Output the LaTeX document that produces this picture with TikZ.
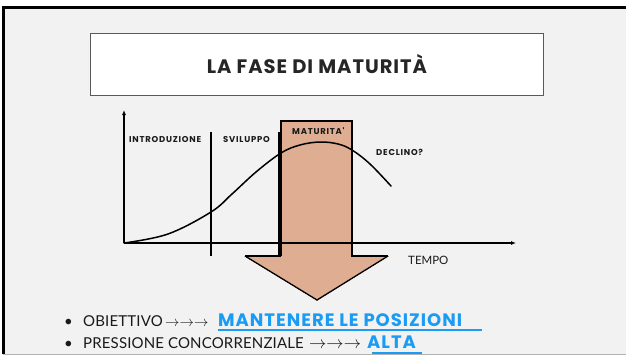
\documentclass[tikz,border=0pt]{standalone}
\usepackage{fontspec}
\setmainfont{Lato}
\newfontfamily\titlefont{Poppins}
\usetikzlibrary{arrows.meta,calc}
\definecolor{slidebg}{HTML}{F2F2F2}
\definecolor{matfill}{HTML}{DFAD92}
\definecolor{hlblue}{HTML}{1A9CF5}
\definecolor{titlegrey}{HTML}{595959}
\definecolor{textdark}{HTML}{1A1A1A}
\tikzset{
  px/.style={x=1pt,y=-1pt},
  phase/.style={inner sep=0pt,anchor=base west,font=\titlefont\fontsize{8.5}{9}\selectfont\bfseries\addfontfeatures{LetterSpace=9},text=textdark},
  bodytext/.style={inner sep=0pt,anchor=base west,font=\fontsize{15}{17}\selectfont\addfontfeatures{LetterSpace=1},text=textdark},
  arrowtext/.style={inner sep=0pt,anchor=base west,font=\fontsize{15}{17}\selectfont,text=textdark},
  bluetext/.style={inner sep=0pt,anchor=base west,font=\titlefont\fontsize{18}{19}\selectfont\bfseries\addfontfeatures{LetterSpace=5.5},text=hlblue},
  axis/.style={line width=1.2pt,-{Latex[length=5pt,width=4pt]}},
  divider/.style={line width=1.5pt},
  blueline/.style={hlblue,line width=2pt}
}
\begin{document}
\begin{tikzpicture}[px]
\useasboundingbox (0,0) rectangle (626,356);
\fill[white] (0,0) rectangle (626,356);
\fill[slidebg] (3,6) rectangle (626,354);
\draw[black,line width=3pt] (3.5,354) -- (3.5,7.5) -- (626,7.5);
\draw[gray!60,line width=1pt] (3,354.5) -- (626,354.5);
% title
\node[draw=titlegrey,line width=1pt,fill=white,minimum width=453pt,minimum height=62pt,inner sep=0pt] (title) at (316.5,64) {};
\node[font=\titlefont\fontsize{19.5}{21}\selectfont\bfseries\addfontfeatures{LetterSpace=5},text=black!85] (titletext) at (317,64) {LA FASE DI MATURITÀ};
% maturity arrow
\draw[matfill,line width=0pt,fill=matfill] (281,121) -- (352,121) -- (352,256) -- (388,256) -- (317,300) -- (245,256) -- (281,256) -- cycle;
\draw[black,line width=2.5pt,line join=miter] (281,256) -- (281,121) -- (352,121) -- (352,256) -- (388,256);
\draw[black,line width=2.5pt] (281,256) -- (245,256);
\draw[black,line width=1.3pt,line join=miter] (245,256) -- (317,300) -- (388,256);
% dividers
\coordinate (d1t) at (211,132); \coordinate (d1b) at (211,256);
\coordinate (d2t) at (279,132); \coordinate (d2b) at (279,256);
\draw[divider] (d1t) -- (d1b);
\draw[divider] (d2t) -- (d2b);
% axes
\coordinate (o) at (124,243);
\coordinate (ytop) at (124,110);
\coordinate (xend) at (516,243);
\draw[axis] (o) -- (ytop);
\draw[axis] (o) -- (xend);
% curve
\draw[line width=1.5pt,line cap=round] plot[smooth,tension=0.6] coordinates {(124,243) (168,234) (211,212) (232,194) (256,172) (281,153) (300,145) (320,142) (338,144) (352,150) (370,164) (391,186)};
% labels
\node[phase] (intro) at (129,142) {INTRODUZIONE};
\node[phase] (svil) at (223,142) {SVILUPPO};
\node[phase] (matl) at (292,134) {MATURITA'};
\node[phase] (decl) at (376,155) {DECLINO?};
\node[inner sep=0pt,anchor=base west,font=\fontsize{11.5}{13}\selectfont,text=textdark] (tempo) at (408,264) {TEMPO};
% bullets
\node[bodytext] (b1) at (64,326) {•};
\node[bodytext] (obj) at (83,326) {OBIETTIVO};
\node[arrowtext] (arr1) at (165,326) {$\rightarrow\rightarrow\rightarrow$};
\node[bluetext] (mant) at (218,326) {MANTENERE LE POSIZIONI};
\node[bodytext] (b2) at (64,348) {•};
\node[bodytext] (press) at (83,348) {PRESSIONE CONCORRENZIALE};
\node[arrowtext,font=\fontsize{16}{17}\selectfont] (arr2) at (309,348) {$\rightarrow\rightarrow\rightarrow$};
\node[bluetext] (alta) at (367,348) {ALTA};
\draw[blueline] ($(mant.base west)+(0,3.5)$) -- ($(mant.base west)+(264,3.5)$);
\draw[blueline] ($(alta.base west)+(5,4.5)$) -- ($(alta.base west)+(55,4.5)$);
\end{tikzpicture}
\end{document}
